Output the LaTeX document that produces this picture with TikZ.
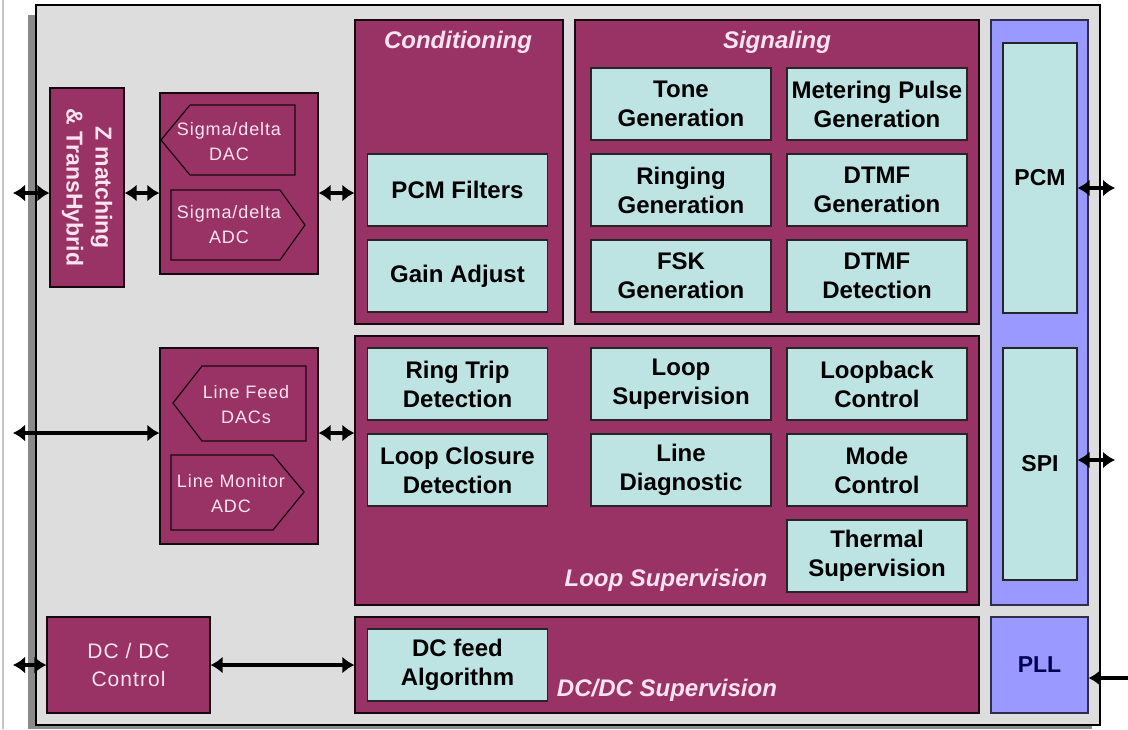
\documentclass[tikz,border=0pt]{standalone}
\usepackage{fontspec}
\setmainfont{Liberation Sans}
\newfontfamily\thinfont[LetterSpace=5]{Liberation Sans}
\usetikzlibrary{arrows.meta, positioning}
\definecolor{maroon}{HTML}{993366}
\definecolor{cellcyan}{HTML}{BEE3E3}
\definecolor{violet}{HTML}{9999FF}
\definecolor{bggray}{HTML}{DDDDDD}
\definecolor{shadowgray}{HTML}{8A8A8A}
\definecolor{pinkwhite}{HTML}{FBE4F0}
\definecolor{navy}{HTML}{000055}

\begin{document}
\begin{tikzpicture}[x = 1pt, y = -1pt,
  grp/.style = {draw = black!85!maroon, fill = maroon, line width = 1.2pt, inner sep = 0pt},
  host/.style = {draw = black!70!violet, fill = violet, line width = 1.2pt, inner sep = 0pt},
  cell/.style = {draw = black!85, fill = cellcyan, line width = 1.2pt, inner sep = 0pt,
    minimum width = 180pt, minimum height = 72pt, align = center,
    font = \fontsize{24}{29}\selectfont\bfseries},
  port/.style = {font = \fontsize{23}{26}\selectfont\bfseries},
  conv/.style = {draw = black!85!maroon, line width = 1.2pt, line join = miter},
  convtxt/.style = {text = pinkwhite, align = center, font = \thinfont\fontsize{18}{25}\selectfont},
  title/.style = {text = pinkwhite, font = \fontsize{24}{28}\selectfont\bfseries\itshape},
  dbl/.style = {line width = 3.2pt, {Latex[length = 12pt, width = 17pt]}-{Latex[length = 12pt, width = 17pt]}}]
\useasboundingbox (0,0) rectangle (1128,729);
\draw[gray!45, line width = 2pt] (3,0) -- (3,729);
% chip outline
\fill[shadowgray] (28,15) rectangle (1092,729);
\draw[fill = bggray, line width = 1.4pt] (36,5) rectangle (1100,725);

% analog front end
\node[grp, minimum width = 74pt, minimum height = 199pt] (zm) at (87,187.5) {};
\node[rotate = -90, text = pinkwhite, align = center, font = \fontsize{23}{29}\selectfont\bfseries] (zmtxt) at (zm) {Z matching\\\& TransHybrid};
\node[grp, minimum width = 158pt, minimum height = 181pt] (sd) at (239,183.5) {};
\draw[conv] (161,140) -- (190,105) -- (295,105) -- (295,175) -- (190,175) -- cycle;
\node[convtxt] (dac) at (229,142) {Sigma/delta\\DAC};
\draw[conv] (171,190) -- (280,190) -- (305,225) -- (280,260) -- (171,260) -- cycle;
\node[convtxt] (adc) at (229,225) {Sigma/delta\\ADC};
\node[grp, minimum width = 158pt, minimum height = 196pt] (lf) at (239,446) {};
\draw[conv] (173,403) -- (202,366) -- (306,366) -- (306,441) -- (202,441) -- cycle;
\node[convtxt] (lfdac) at (246,405) {Line Feed\\DACs};
\draw[conv] (171,455) -- (273,455) -- (304,492) -- (273,530) -- (171,530) -- cycle;
\node[convtxt] (lmadc) at (231,494) {Line Monitor\\ADC};
\node[grp, minimum width = 163pt, minimum height = 96pt, text = pinkwhite, align = center,
  font = \thinfont\fontsize{21}{28}\selectfont] (dcc) at (128.5,665) {DC / DC\\Control};

% DSP blocks
\node[grp, minimum width = 208pt, minimum height = 304pt] (cond) at (459,172) {};
\node[title] (condtxt) at (458,42) {Conditioning};
\node[grp, minimum width = 404pt, minimum height = 304pt] (sig) at (777,172) {};
\node[title] (sigtxt) at (777,42) {Signaling};
\node[grp, minimum width = 624pt, minimum height = 269pt] (loop) at (667,470.5) {};
\node[title] (looptxt) at (666,580) {Loop Supervision};
\node[grp, minimum width = 624pt, minimum height = 96pt] (dcs) at (667,665) {};
\node[title] (dcstxt) at (667,690) {DC/DC Supervision};
\foreach \n/\x/\y/\t in {pcmf/457.5/190/{PCM Filters}, gain/457.5/276/{Gain Adjust},
  tone/681/104/{Tone\\Generation}, meter/877/104/{Metering Pulse\\Generation},
  ring/681/190/{Ringing\\Generation}, dtmfg/877/190/{DTMF\\Generation},
  fsk/681/276/{FSK\\Generation}, dtmfd/877/276/{DTMF\\Detection},
  rtrip/457.5/384/{Ring Trip\\Detection}, lclos/457.5/470/{Loop Closure\\Detection},
  lsup/681/384/{Loop\\Supervision}, ldiag/681/470/{Line\\Diagnostic},
  lback/877/384/{Loopback\\Control}, mode/877/470/{Mode\\Control},
  therm/877/556/{Thermal\\Supervision}, dcfeed/457.5/665/{DC feed\\Algorithm}}
  \node[cell] (\n) at (\x,\y) {\t};

% interfaces
\node[host, minimum width = 97pt, minimum height = 585pt] (bus) at (1039.5,312.5) {};
\node[cell, port, minimum width = 74pt, minimum height = 270pt] (pcm) at (1040,178) {PCM};
\node[cell, port, minimum width = 74pt, minimum height = 232pt] (spi) at (1040,464) {SPI};
\node[host, port, minimum width = 97pt, minimum height = 96pt, text = navy] (pll) at (1039.5,665) {PLL};

% connectors
\coordinate (inZ) at (13,193);
\coordinate (inL) at (13,433);
\coordinate (inD) at (13,665);
\coordinate (outP) at (1115,188);
\coordinate (outS) at (1115,460);
\coordinate (clk) at (1128,678);
\draw[dbl] (inZ) -- (zm.west |- inZ);
\draw[dbl] (zm.east |- inZ) -- (sd.west |- inZ);
\draw[dbl] (sd.east |- inZ) -- (cond.west |- inZ);
\draw[dbl] (inL) -- (lf.west |- inL);
\draw[dbl] (lf.east |- inL) -- (loop.west |- inL);
\draw[dbl] (inD) -- (dcc.west);
\draw[dbl] (dcc.east) -- (dcs.west);
\draw[dbl] (pcm.east |- outP) -- (outP);
\draw[dbl] (spi.east |- outS) -- (outS);
\draw[line width = 3.2pt, -{Latex[length = 12pt, width = 17pt]}] (clk) -- (pll.east |- clk);
\end{tikzpicture}
\end{document}
